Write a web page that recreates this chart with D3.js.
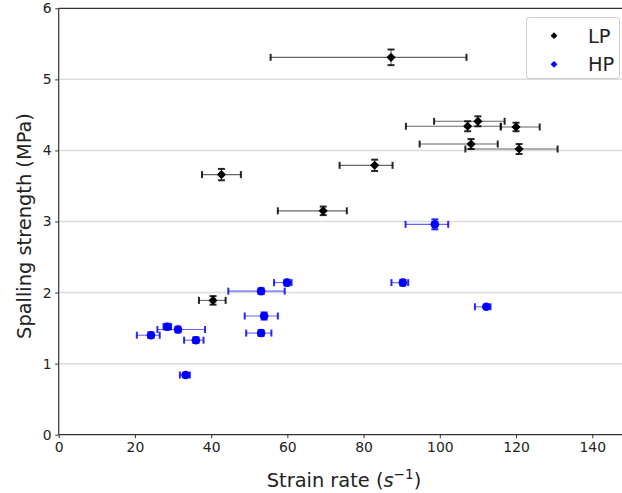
<!DOCTYPE html>
<html>
<head>
<meta charset="utf-8">
<script src="https://cdn.jsdelivr.net/npm/d3@7"></script>
<style>
  html, body { margin: 0; padding: 0; background: #fff; }
  svg { display: block; font-family: "DejaVu Sans", sans-serif; }
</style>
</head>
<body>
<svg id="chart" width="622" height="493"></svg>
<script>
// Low-porosity (LP) specimens
const lpRate        = [87.2, 42.7, 82.9, 69.4, 40.5, 107.3, 110.0, 120.0, 108.2, 120.8];
const lpStrength    = [5.31, 3.66, 3.79, 3.15, 1.89, 4.34, 4.41, 4.33, 4.09, 4.02];
const lpRateLow     = [31.6, 5.1, 9.2, 11.9, 3.7, 16.2, 11.5, 4.0, 13.5, 14.1];
const lpRateHigh    = [19.8, 5.1, 4.7, 6.2, 3.3, 8.7, 7.0, 6.2, 7.0, 10.1];
const lpStrengthErr = [0.11, 0.08, 0.08, 0.06, 0.06, 0.07, 0.07, 0.06, 0.07, 0.07];

// High-porosity (HP) specimens
const hpRate        = [98.7, 90.3, 112.2, 59.9, 53.1, 53.9, 28.5, 31.3, 24.2, 36.0, 53.1, 33.3];
const hpStrength    = [2.96, 2.14, 1.80, 2.14, 2.02, 1.67, 1.52, 1.48, 1.40, 1.33, 1.43, 0.84];
const hpRateLow     = [7.7, 3.0, 3.0, 3.4, 8.6, 5.1, 1.0, 5.4, 3.7, 3.1, 3.9, 1.5];
const hpRateHigh    = [3.5, 1.4, 1.1, 1.2, 6.2, 3.6, 1.0, 7.1, 2.3, 2.0, 2.7, 1.1];
const hpStrengthErr = [0.07, 0.04, 0.03, 0.04, 0.04, 0.05, 0.04, 0.04, 0.04, 0.04, 0.04, 0.03];

const xTicks = [0, 20, 40, 60, 80, 100, 120, 140];
const yTicks = [0, 1, 2, 3, 4, 5, 6];
const seriesNames = ["LP", "HP"];
const seriesColors = ["#000000", "#0000ff"];

const svg = d3.select("#chart");
const plotLeft = 58.7, plotRight = 622, plotTop = 8.3, plotBottom = 434.7;

const x = d3.scaleLinear().domain([0, 147.8]).range([plotLeft, plotRight]);
const y = d3.scaleLinear().domain([0, 6]).range([plotBottom, plotTop]);

// horizontal grid
svg.append("g")
  .selectAll("line")
  .data(yTicks.filter(t => t > 0 && t < 6))
  .join("line")
  .attr("x1", plotLeft).attr("x2", plotRight)
  .attr("y1", d => y(d)).attr("y2", d => y(d))
  .attr("stroke", "#dcdcdc").attr("stroke-width", 1.5);

// axes
const xAxis = svg.append("g")
  .attr("transform", `translate(0,${plotBottom})`)
  .call(d3.axisBottom(x).tickValues(xTicks).tickFormat(d3.format("d"))
    .tickSize(3.5).tickPadding(3.5));
const yAxis = svg.append("g")
  .attr("transform", `translate(${plotLeft},0)`)
  .call(d3.axisLeft(y).tickValues(yTicks).tickFormat(d3.format("d"))
    .tickSize(3.5).tickPadding(3.5));

[xAxis, yAxis].forEach(g => {
  g.select(".domain").remove();
  g.selectAll(".tick line").attr("stroke", "#333").attr("stroke-width", 1);
  g.selectAll(".tick text")
    .attr("font-family", "DejaVu Sans, sans-serif")
    .attr("font-size", 13.9)
    .attr("fill", "#222");
});

// spines: left, bottom, top
svg.append("line").attr("x1", plotLeft).attr("x2", plotLeft).attr("y1", plotTop).attr("y2", plotBottom)
  .attr("stroke", "#333").attr("stroke-width", 1.2);
svg.append("line").attr("x1", plotLeft).attr("x2", plotRight).attr("y1", plotBottom).attr("y2", plotBottom)
  .attr("stroke", "#333").attr("stroke-width", 1.2);
svg.append("line").attr("x1", plotLeft).attr("x2", plotRight).attr("y1", plotTop).attr("y2", plotTop)
  .attr("stroke", "#333").attr("stroke-width", 1.2);

// axis titles
const xTitle = svg.append("text")
  .attr("x", 344).attr("y", 487)
  .attr("text-anchor", "middle")
  .attr("font-size", 19.4).attr("fill", "#222");
xTitle.append("tspan").text("Strain rate (");
xTitle.append("tspan").attr("font-style", "italic").text("s");
xTitle.append("tspan").attr("font-size", 13.6).attr("dy", -8).text("−1");
xTitle.append("tspan").attr("dy", 8).text(")");

svg.append("text")
  .attr("transform", `translate(31,226) rotate(-90)`)
  .attr("text-anchor", "middle")
  .attr("font-size", 19.4).attr("fill", "#222")
  .text("Spalling strength (MPa)");

// build point records from the arrays
function records(rate, strength, lo, hi, err) {
  return rate.map((r, i) => ({ r, s: strength[i], lo: lo[i], hi: hi[i], e: err[i] }));
}
const series = [
  { name: seriesNames[0], color: seriesColors[0], shape: "diamond",
    pts: records(lpRate, lpStrength, lpRateLow, lpRateHigh, lpStrengthErr) },
  { name: seriesNames[1], color: seriesColors[1], shape: "circle",
    pts: records(hpRate, hpStrength, hpRateLow, hpRateHigh, hpStrengthErr) }
];

const cap = 3.5;
const diamond = (h) => `M0,${-h}L${h},0L0,${h}L${-h},0Z`;

series.forEach(sr => {
  const g = svg.append("g");
  const eb = g.selectAll("g.eb").data(sr.pts).join("g").attr("class", "eb");
  // horizontal error lines
  eb.append("line")
    .attr("x1", d => x(d.r - d.lo)).attr("x2", d => x(d.r + d.hi))
    .attr("y1", d => y(d.s)).attr("y2", d => y(d.s))
    .attr("stroke", sr.color).attr("stroke-opacity", 0.6).attr("stroke-width", 1.1);
  // vertical error lines
  eb.append("line")
    .attr("x1", d => x(d.r)).attr("x2", d => x(d.r))
    .attr("y1", d => y(d.s - d.e)).attr("y2", d => y(d.s + d.e))
    .attr("stroke", sr.color).attr("stroke-opacity", 0.6).attr("stroke-width", 1.1);
  // caps
  const capsX = [d => d.r - d.lo, d => d.r + d.hi];
  capsX.forEach(fx => {
    eb.append("line")
      .attr("x1", d => x(fx(d))).attr("x2", d => x(fx(d)))
      .attr("y1", d => y(d.s) - cap).attr("y2", d => y(d.s) + cap)
      .attr("stroke", sr.color).attr("stroke-opacity", 0.85).attr("stroke-width", 2);
  });
  const capsY = [d => d.s - d.e, d => d.s + d.e];
  capsY.forEach(fy => {
    eb.append("line")
      .attr("x1", d => x(d.r) - cap).attr("x2", d => x(d.r) + cap)
      .attr("y1", d => y(fy(d))).attr("y2", d => y(fy(d)))
      .attr("stroke", sr.color).attr("stroke-opacity", 0.85).attr("stroke-width", 2);
  });
  // markers
  if (sr.shape === "diamond") {
    g.selectAll("path.mk").data(sr.pts).join("path").attr("class", "mk")
      .attr("d", diamond(4.6))
      .attr("transform", d => `translate(${x(d.r)},${y(d.s)})`)
      .attr("fill", sr.color);
  } else {
    g.selectAll("circle.mk").data(sr.pts).join("circle").attr("class", "mk")
      .attr("cx", d => x(d.r)).attr("cy", d => y(d.s)).attr("r", 4.3)
      .attr("fill", sr.color);
  }
});

// legend
const lg = svg.append("g").attr("transform", "translate(526.5,17.5)");
lg.append("rect")
  .attr("width", 93).attr("height", 61).attr("rx", 3)
  .attr("fill", "#fff").attr("fill-opacity", 0.85)
  .attr("stroke", "#cccccc").attr("stroke-width", 1);
series.forEach((sr, i) => {
  const cy = 18.2 + i * 28.6;
  lg.append("path").attr("d", diamond(3.4))
    .attr("transform", `translate(27.5,${cy})`).attr("fill", sr.color);
  lg.append("text").attr("x", 61.5).attr("y", cy + 6.8)
    .attr("font-size", 19.4).attr("fill", "#222").text(sr.name);
});
</script>
</body>
</html>
